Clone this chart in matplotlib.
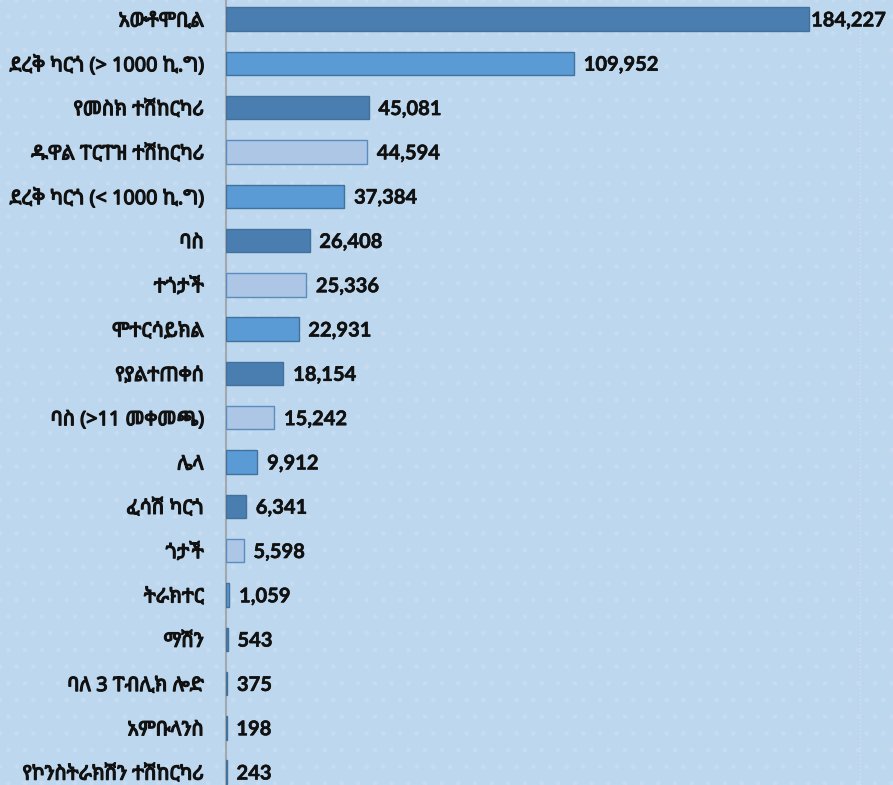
import matplotlib
matplotlib.use('Agg')
import matplotlib.pyplot as plt
import matplotlib.patheffects as pe
from matplotlib import font_manager
from matplotlib.ft2font import FT2Font
from matplotlib.patches import Rectangle

categories = ['አውቶሞቢል', 'ደረቅ ካርጎ (> 1000 ኪ.ግ)', 'የመስክ ተሽከርካሪ', 'ዱዋል ፐርፐዝ ተሽከርካሪ',
              'ደረቅ ካርጎ (< 1000 ኪ.ግ)', 'ባስ', 'ተጎታች', 'ሞተርሳይክል', 'የያልተጠቀሰ',
              'ባስ (>11 መቀመጫ)', 'ሌላ', 'ፈሳሽ ካርጎ', 'ጎታች', 'ትራክተር', 'ማሽን',
              'ባለ 3 ፐብሊክ ሎድ', 'አምቡላንስ', 'የኮንስትራክሽን ተሽከርካሪ']
values = [184227, 109952, 45081, 44594, 37384, 26408, 25336, 22931, 18154,
          15242, 9912, 6341, 5598, 1059, 543, 375, 198, 243]
shade = ['dark', 'mid', 'dark', 'light', 'mid', 'dark', 'light', 'mid', 'dark',
         'light', 'mid', 'dark', 'light', 'mid', 'dark', 'mid', 'dark', 'mid']

fills = {'dark': '#4a7eb0', 'mid': '#5b9bd5', 'light': '#adc6e5'}
edges = {'dark': '#41719c', 'mid': '#41719c', 'light': '#5b8cc0'}


def ethiopic_family():
    # pick an installed proportional font with Ethiopic glyphs
    found = []
    for path in sorted(font_manager.findSystemFonts()):
        try:
            if 0x12A0 not in FT2Font(path).get_charmap():
                continue
        except Exception:
            continue
        font_manager.fontManager.addfont(path)
        name = font_manager.FontProperties(fname=path).get_name()
        rank = 0
        if 'mono' in path.lower() or 'mono' in name.lower():
            rank += 10
        if 'sans' not in name.lower():
            rank += 1
        found.append((rank, name))
    if not found:
        return 'DejaVu Sans'
    return sorted(found)[0][1]


def bold_numbers():
    # Lato Bold file, picked directly so the weight is not left to font matching
    for f in font_manager.fontManager.ttflist:
        if f.name == 'Lato' and f.weight == 700 and f.style == 'normal':
            return font_manager.FontProperties(fname=f.fname, size=14.5)
    return font_manager.FontProperties(family='DejaVu Sans', weight='bold', size=13)


eth = ethiopic_family()
num_font = bold_numbers()
bg = '#bdd7ee'
xmax = 203500

fig = plt.figure(figsize=(8.93, 7.85), dpi=100, facecolor=bg)
fig.patches.append(Rectangle((0, 0), 1, 1, transform=fig.transFigure, facecolor='none',
                             edgecolor='#c7dcf0', hatch='.', linewidth=0, zorder=-5))
ax = fig.add_axes([226 / 893, 0, 644 / 893, 1])
ax.set_facecolor('none')

ypos = list(range(len(values)))
ax.barh(ypos, values, height=0.53, zorder=3,
        color=[fills[s] for s in shade], edgecolor=[edges[s] for s in shade], linewidth=1)

ax.set_xlim(0, xmax)
ax.set_ylim(17.29, -0.43)

for y, v in zip(ypos, values):
    # the longest bar leaves little room, so its label sits tight to the bar end
    gap = 1.5 if v > 0.85 * xmax else 7
    ax.annotate(f'{v:,}', (v, y), xytext=(gap, -1), textcoords='offset points',
                ha='left', va='center', fontproperties=num_font, color='#111111',
                path_effects=[pe.withStroke(linewidth=0.4, foreground='#111111')])

ax.set_yticks(ypos)
ax.set_yticklabels(categories, fontsize=14.3, fontweight='bold', family=[eth, 'DejaVu Sans'],
                   path_effects=[pe.withStroke(linewidth=0.9, foreground='#111111')])
ax.tick_params(axis='y', length=0, pad=16, labelcolor='#111111')
ax.set_xticks([])

for side in ['top', 'right', 'bottom']:
    ax.spines[side].set_visible(False)
ax.spines['left'].set_color('#a0a8b0')
ax.spines['left'].set_linewidth(1.5)
ax.axvline(xmax * 0.985, color='#cfe2f3', linestyle=':', linewidth=1)

fig.savefig('out.png', dpi=100, facecolor=bg)
